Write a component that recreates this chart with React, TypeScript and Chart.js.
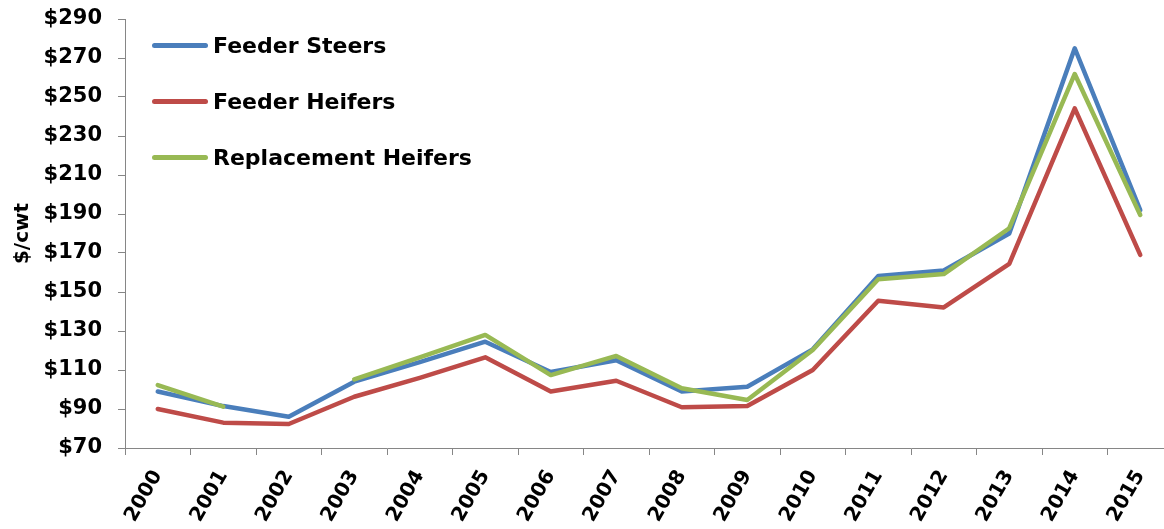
import React, { useEffect, useRef } from "react";
import { Chart, registerables } from "chart.js";

Chart.register(...registerables);

const years = ["2000", "2001", "2002", "2003", "2004", "2005", "2006", "2007", "2008", "2009", "2010", "2011", "2012", "2013", "2014", "2015"];
const feederSteers = [99, 91.5, 86, 104, 114, 124.5, 109, 115, 99, 101.4, 120.6, 158.2, 161, 180, 275, 192];
const feederHeifers = [90, 83, 82.3, 96.3, 106, 116.5, 99, 104.5, 90.9, 91.5, 110, 145.5, 142.1, 164.4, 244.2, 169];
const replacementHeifers = [102.3, 91.2, null, 105.2, 116.5, 128, 107.4, 117.2, 100.6, 94.6, 120.3, 156.5, 159.2, 182.7, 261.8, 189.5];

const seriesNames = ["Feeder Steers", "Feeder Heifers", "Replacement Heifers"];
const seriesColors = ["#4A7EBB", "#BE4B48", "#98B954"];
const yMin = 70;
const yMax = 290;
const yStep = 20;
const yTitle = "$/cwt";

const FONT = "'DejaVu Sans', sans-serif";

export default function App() {
  const ref = useRef<HTMLCanvasElement>(null);

  useEffect(() => {
    if (!ref.current) return;
    const values = [feederSteers, feederHeifers, replacementHeifers];
    const chart = new Chart(ref.current, {
      type: "line",
      data: {
        labels: years,
        datasets: values.map((v, i) => ({
          label: seriesNames[i],
          data: v,
          borderColor: seriesColors[i],
          backgroundColor: seriesColors[i],
          borderWidth: 4.5,
          pointRadius: 0,
          tension: 0,
          spanGaps: false,
          fill: false,
          borderCapStyle: "round" as const,
          borderJoinStyle: "round" as const,
          order: i === 2 ? -1 : i,
        })),
      },
      options: {
        responsive: false,
        maintainAspectRatio: false,
        animation: false,
        devicePixelRatio: 1,
        layout: { padding: { top: 19, right: 2, left: 0, bottom: 0 } },
        plugins: {
          legend: { display: false },
          tooltip: { enabled: false },
        },
        scales: {
          x: {
            type: "category",
            offset: true,
            grid: { offset: true, drawOnChartArea: false, drawTicks: true, tickLength: 7, color: "#868686", lineWidth: 1 },
            border: { color: "#868686", width: 1 },
            ticks: {
              minRotation: 60,
              maxRotation: 60,
              autoSkip: false,
              padding: 11,
              color: "#000",
              font: { family: FONT, size: 20, weight: "bold" },
            },
            afterFit: (s: any) => {
              s.height = 81;
              s.paddingLeft = 0;
              s.paddingRight = 0;
            },
          },
          y: {
            min: yMin,
            max: yMax,
            grid: { drawOnChartArea: false, drawTicks: true, tickLength: 7, color: "#868686", lineWidth: 1 },
            border: { color: "#868686", width: 1 },
            ticks: {
              stepSize: yStep,
              padding: 16,
              color: "#000",
              font: { family: FONT, size: 21, weight: "bold" },
              callback: (v: any) => "$" + v,
            },
            title: {
              display: true,
              text: yTitle,
              color: "#000",
              font: { family: FONT, size: 20, weight: "bold" },
              padding: { top: 11, bottom: 0 },
            },
            afterFit: (s: any) => {
              s.width = 125;
              s.paddingTop = 0;
              s.paddingBottom = 0;
            },
          },
        },
      },
    });
    return () => chart.destroy();
  }, []);

  const legendTops = [45, 101, 157];

  return (
    <div style={{ position: "fixed", left: 0, top: 0, width: 1175, height: 529, background: "#fff", overflow: "hidden" }}>
      <canvas ref={ref} width={1175} height={529} style={{ display: "block", width: 1175, height: 529 }} />
      {seriesNames.map((name, i) => (
        <div
          key={name}
          style={{
            position: "absolute",
            left: 152,
            top: legendTops[i] - 15,
            height: 30,
            display: "flex",
            alignItems: "center",
            fontFamily: FONT,
            fontWeight: "bold",
            fontSize: 22,
            color: "#000",
            whiteSpace: "nowrap",
          }}
        >
          <span style={{ display: "inline-block", width: 56, height: 5, borderRadius: 3, background: seriesColors[i], marginRight: 5 }} />
          <span>{name}</span>
        </div>
      ))}
    </div>
  );
}
